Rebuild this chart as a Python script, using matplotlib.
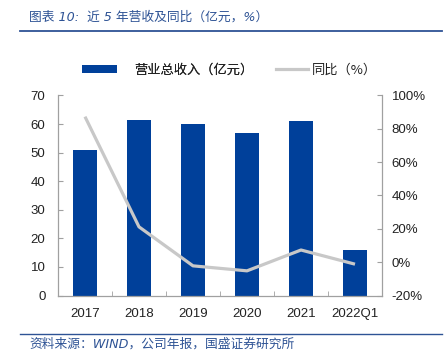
import matplotlib
matplotlib.use("Agg")
import matplotlib.pyplot as plt
from matplotlib.lines import Line2D
from matplotlib.patches import Patch
from matplotlib.ticker import FuncFormatter

# data
years = ['2017', '2018', '2019', '2020', '2021', '2022Q1']
revenue = [50.8, 61.4, 60.0, 56.8, 61.0, 15.8]      # 营业总收入（亿元）
yoy = [87.3, 21.2, -2.2, -5.2, 7.3, -1.2]            # 同比（%）

BAR_COLOR = '#00409A'
LINE_COLOR = '#C8C8C8'
AXIS_COLOR = '#A0A0A0'
TEXT_BLUE = '#2E5395'

plt.rcParams['font.family'] = ['Liberation Sans', 'Noto Sans CJK SC']

fig = plt.figure(figsize=(4.46, 3.61), dpi=100)
ax = fig.add_axes([0.130, 0.1814, 0.7265, 0.5541])
ax2 = ax.twinx()

x = range(len(years))
ax.bar(x, revenue, width=0.44, color=BAR_COLOR, zorder=2)
ax2.plot(x, yoy, color=LINE_COLOR, linewidth=2.3, solid_capstyle='butt', zorder=3)

ax.set_xlim(-0.5, len(years) - 0.5)
ax.set_ylim(0, 70)
ax.set_yticks(range(0, 71, 10))
ax2.set_ylim(-20, 100)
ax2.set_yticks(range(-20, 101, 20))
ax2.yaxis.set_major_formatter(FuncFormatter(lambda v, _: f'{int(v)}%'))

ax.set_xticks(list(x))
ax.set_xticklabels(years)
ax.set_xticks([i + 0.5 for i in range(len(years) - 1)], minor=True)
ax.tick_params(axis='x', which='major', length=0, pad=9, labelsize=9.5, colors='#222222')
ax.tick_params(axis='x', which='minor', direction='in', length=3.5, color=AXIS_COLOR)
ax.tick_params(axis='y', direction='in', length=3.5, color=AXIS_COLOR, pad=9,
               labelsize=9.5, labelcolor='#222222')
ax2.tick_params(axis='y', direction='in', length=3.5, color=AXIS_COLOR, pad=7,
                labelsize=9.5, labelcolor='#222222')

for a in (ax, ax2):
    a.spines['top'].set_visible(False)
    for side in ('left', 'right', 'bottom'):
        a.spines[side].set_color(AXIS_COLOR)
        a.spines[side].set_linewidth(0.9)
ax.spines['right'].set_visible(False)
ax2.spines['left'].set_visible(False)
ax2.spines['bottom'].set_visible(False)

# two legend entries placed separately to match the spacing of the original
legend_font = {'family': ['Noto Sans CJK SC'], 'size': 9.5}
leg1 = fig.legend([Patch(facecolor=BAR_COLOR, edgecolor='none')], ['营业总收入（亿元）'],
                  loc='center', bbox_to_anchor=(0.377, 0.805), frameon=False,
                  handlelength=2.6, handleheight=0.55, handletextpad=1.36,
                  labelcolor='#222222', prop=legend_font)
fig.legend([Line2D([], [], color=LINE_COLOR, linewidth=2.3)], ['同比（%）'],
           loc='center', bbox_to_anchor=(0.732, 0.805), frameon=False,
           handlelength=2.45, handletextpad=0.25,
           labelcolor='#222222', prop=legend_font)
fig.add_artist(leg1)

# title and source with their rules
fig.text(0.065, 0.952, '图表 10:  近 5 年营收及同比（亿元，%）', color=TEXT_BLUE,
         fontsize=9.2, style='italic', va='center',
         family=['DejaVu Sans', 'Noto Sans CJK SC'])
fig.add_artist(Line2D([0.045, 0.99], [0.914, 0.914], color=TEXT_BLUE, linewidth=1.3))
fig.add_artist(Line2D([0.045, 0.99], [0.075, 0.075], color=TEXT_BLUE, linewidth=1.0))
fig.text(0.065, 0.047, '资料来源：WIND，公司年报，国盛证券研究所', color=TEXT_BLUE,
         fontsize=9.2, style='italic', va='center',
         family=['DejaVu Sans', 'Noto Sans CJK SC'])

fig.savefig('out.png', dpi=100)
